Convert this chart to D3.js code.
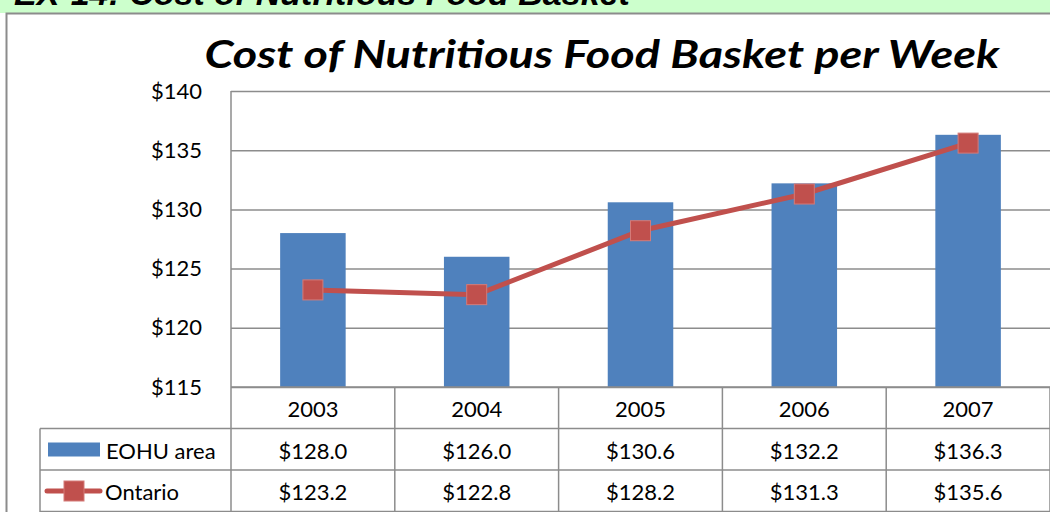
<!DOCTYPE html>
<meta charset="utf-8">
<style>
body { margin: 0; background: #fff; }
svg { display: block; font-family: Lato, "Open Sans", sans-serif; }
.grid line { stroke: #8c8c8c; stroke-width: 1.5px; }
.grid path { display: none; }
.axis--y path, .axis--y line { display: none; }
.axis--y text { font-family: Lato, sans-serif; font-size: 22px; fill: #000; }
.tbl line { stroke: #8c8c8c; stroke-width: 1.5px; }
.tbl text { font-size: 22px; fill: #000; text-anchor: middle; }
</style>
<svg width="1050" height="512"></svg>
<script src="https://cdn.jsdelivr.net/npm/d3@7"></script>
<script>

var years = ["2003", "2004", "2005", "2006", "2007"];
var eohu = [128.0, 126.0, 130.6, 132.2, 136.3];
var ontario = [123.2, 122.8, 128.2, 131.3, 135.6];
var yTicks = [115, 120, 125, 130, 135, 140];

var svg = d3.select("svg"),
    margin = {top: 91, right: 0, bottom: 125, left: 231},
    width = +svg.attr("width") - margin.left - margin.right,
    height = +svg.attr("height") - margin.top - margin.bottom;

// green header band with the cropped slide heading
svg.append("rect").attr("x", 0).attr("y", 0).attr("width", 1050).attr("height", 13).attr("fill", "#ccffcc");
svg.append("text")
    .attr("x", 14).attr("y", 5)
    .style("font-family", "'Liberation Sans', Arial, sans-serif")
    .style("font-size", "34px").style("font-weight", "bold").style("font-style", "italic")
    .text("EX-14: Cost of Nutritious Food Basket");

// chart frame
svg.append("rect")
    .attr("x", 6.5).attr("y", 13.5).attr("width", 1100).attr("height", 600)
    .attr("fill", "#fff").attr("stroke", "#8c8c8c").attr("stroke-width", 2);

svg.append("text")
    .attr("x", 602).attr("y", 68)
    .attr("text-anchor", "middle")
    .attr("textLength", 795).attr("lengthAdjust", "spacingAndGlyphs")
    .style("font-size", "39px").style("font-weight", "bold").style("font-style", "italic")
    .text("Cost of Nutritious Food Basket per Week");

var g = svg.append("g").attr("transform", "translate(" + margin.left + "," + margin.top + ")");

var x = d3.scaleBand().domain(years).range([0, width]);
var y = d3.scaleLinear().domain([115, 140]).range([height, 0]);

g.append("g")
    .attr("class", "grid")
    .call(d3.axisLeft(y).tickValues(yTicks).tickSize(-width).tickFormat(""));

g.append("line")
    .attr("x1", 0).attr("x2", 0).attr("y1", 0).attr("y2", height)
    .attr("stroke", "#8c8c8c").attr("stroke-width", 1.5);

g.append("g")
    .attr("class", "axis axis--y")
    .attr("transform", "translate(-26,0)")
    .call(d3.axisLeft(y).tickValues(yTicks).tickSize(0).tickFormat(function(d) { return "$" + d; }));

var bw = x.bandwidth() * 0.4;
g.selectAll(".bar")
    .data(eohu)
    .enter().append("rect")
    .attr("class", "bar")
    .attr("x", function(d, i) { return x(years[i]) + (x.bandwidth() - bw) / 2; })
    .attr("y", function(d) { return y(d); })
    .attr("width", bw)
    .attr("height", function(d) { return height - y(d); })
    .attr("fill", "#4f81bd");

var line = d3.line()
    .x(function(d, i) { return x(years[i]) + x.bandwidth() / 2; })
    .y(function(d) { return y(d); });

g.append("path")
    .datum(ontario)
    .attr("d", line)
    .attr("fill", "none")
    .attr("stroke", "#c0504d")
    .attr("stroke-width", 5);

g.selectAll(".mark")
    .data(ontario)
    .enter().append("rect")
    .attr("class", "mark")
    .attr("x", function(d, i) { return x(years[i]) + x.bandwidth() / 2 - 10; })
    .attr("y", function(d) { return y(d) - 10; })
    .attr("width", 20).attr("height", 20)
    .attr("fill", "#c0504d")
    .attr("stroke", "#d47b79").attr("stroke-width", 1);

// data table below the plot
var t = svg.append("g").attr("class", "tbl");
var rowTop = 387, rowH = 41.5, legLeft = 40;
var rows = [rowTop, rowTop + rowH, rowTop + 2 * rowH, rowTop + 3 * rowH];

t.selectAll(".hline")
    .data(rows)
    .enter().append("line")
    .attr("x1", function(d, i) { return i === 0 ? margin.left : legLeft; })
    .attr("x2", 1050)
    .attr("y1", function(d) { return d; }).attr("y2", function(d) { return d; });

var cols = years.map(function(yr) { return margin.left + x(yr); }).concat([1050]);
t.selectAll(".vline")
    .data(cols)
    .enter().append("line")
    .attr("x1", function(d) { return d; }).attr("x2", function(d) { return d; })
    .attr("y1", rowTop).attr("y2", 512);
t.append("line").attr("x1", legLeft).attr("x2", legLeft).attr("y1", rowTop + rowH).attr("y2", 512);

t.selectAll(".yr")
    .data(years)
    .enter().append("text")
    .attr("x", function(d) { return margin.left + x(d) + x.bandwidth() / 2; })
    .attr("y", rowTop + 30)
    .text(function(d) { return d; });

t.selectAll(".ev")
    .data(eohu)
    .enter().append("text")
    .attr("x", function(d, i) { return margin.left + x(years[i]) + x.bandwidth() / 2; })
    .attr("y", rowTop + rowH + 30)
    .text(function(d) { return "$" + d.toFixed(1); });

t.selectAll(".ov")
    .data(ontario)
    .enter().append("text")
    .attr("x", function(d, i) { return margin.left + x(years[i]) + x.bandwidth() / 2; })
    .attr("y", rowTop + 2 * rowH + 30)
    .text(function(d) { return "$" + d.toFixed(1); });

// legend keys
t.append("rect").attr("x", 48).attr("y", rowTop + rowH + 14).attr("width", 52).attr("height", 14).attr("fill", "#4f81bd");
t.append("text").attr("x", 106).attr("y", rowTop + rowH + 30).style("text-anchor", "start").text("EOHU area");
t.append("line").attr("x1", 47).attr("x2", 100).attr("y1", rowTop + 2 * rowH + 21).attr("y2", rowTop + 2 * rowH + 21)
    .style("stroke", "#c0504d").style("stroke-width", 5).style("stroke-linecap", "round");
t.append("rect").attr("x", 64).attr("y", rowTop + 2 * rowH + 11).attr("width", 20).attr("height", 20)
    .attr("fill", "#c0504d").attr("stroke", "#d47b79");
t.append("text").attr("x", 105).attr("y", rowTop + 2 * rowH + 30).style("text-anchor", "start").text("Ontario");

</script>
